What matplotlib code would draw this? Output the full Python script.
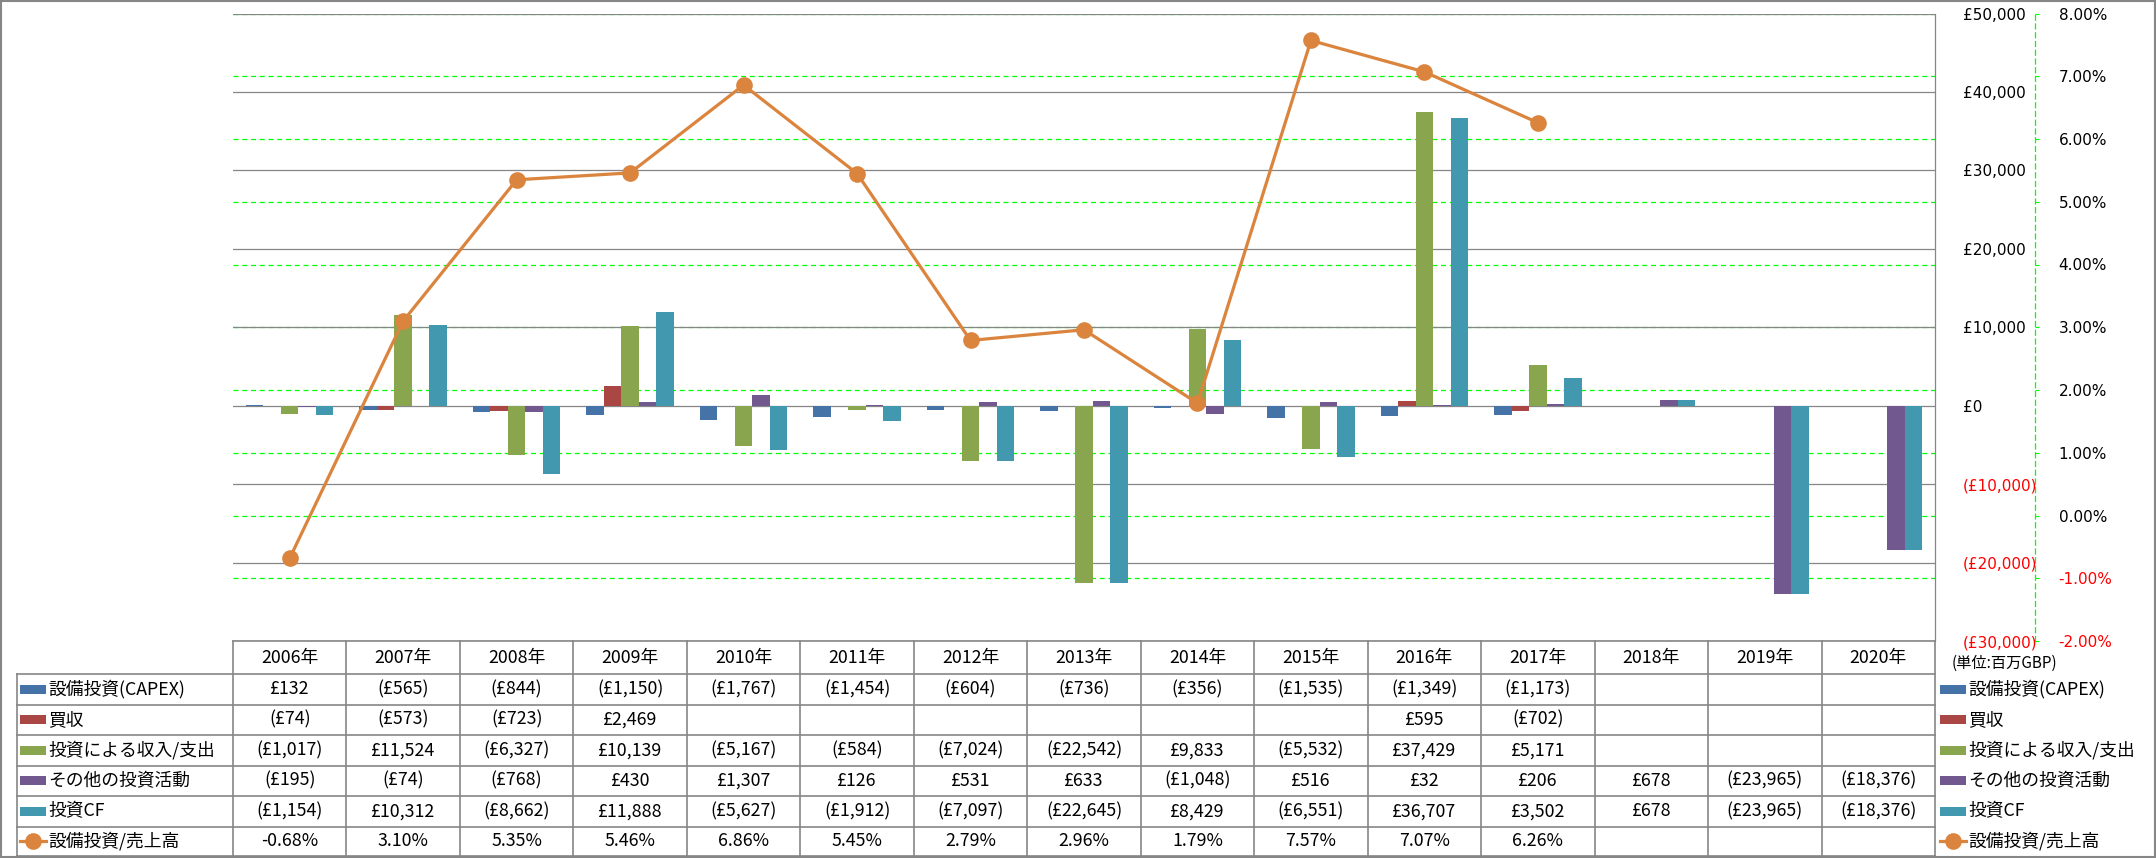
import numpy as np
import matplotlib
matplotlib.use('Agg')
import matplotlib.pyplot as plt
import matplotlib.transforms as mtransforms
from matplotlib.patches import Rectangle
from matplotlib.lines import Line2D
from matplotlib.ticker import FuncFormatter, FixedLocator

plt.rcParams['font.family'] = ['Noto Sans CJK JP', 'DejaVu Sans']

nan = np.nan

# data
years = ['2006年', '2007年', '2008年', '2009年', '2010年', '2011年', '2012年', '2013年',
         '2014年', '2015年', '2016年', '2017年', '2018年', '2019年', '2020年']
capex = [132, -565, -844, -1150, -1767, -1454, -604, -736, -356, -1535, -1349, -1173, nan, nan, nan]
acquisition = [-74, -573, -723, 2469, nan, nan, nan, nan, nan, nan, 595, -702, nan, nan, nan]
invest_income = [-1017, 11524, -6327, 10139, -5167, -584, -7024, -22542, 9833, -5532, 37429, 5171, nan, nan, nan]
other_invest = [-195, -74, -768, 430, 1307, 126, 531, 633, -1048, 516, 32, 206, 678, -23965, -18376]
invest_cf = [-1154, 10312, -8662, 11888, -5627, -1912, -7097, -22645, 8429, -6551, 36707, 3502, 678, -23965, -18376]
capex_ratio = [-0.68, 3.10, 5.35, 5.46, 6.86, 5.45, 2.79, 2.96, 1.79, 7.57, 7.07, 6.26, nan, nan, nan]

bar_names = ['設備投資(CAPEX)', '買収', '投資による収入/支出', 'その他の投資活動', '投資CF']
line_name = '設備投資/売上高'
bar_series = [capex, acquisition, invest_income, other_invest, invest_cf]
colors = ['#4572A7', '#AA4643', '#89A54E', '#71588F', '#4198AF']
line_color = '#DB843D'
grid_gray = '#868686'
green = '#00FF00'

W, H = 2156, 858
fig = plt.figure(figsize=(W / 100, H / 100), dpi=100)
fig.patch.set_facecolor('white')

x0, x1, ytop, ybot = 233, 1935, 13.5, 641
rect = [x0 / W, 1 - ybot / H, (x1 - x0) / W, (ybot - ytop) / H]
ax = fig.add_axes(rect)
axg = ax.twinx()
axl = ax.twinx()
axg.set_zorder(0)
ax.set_zorder(1)
axl.set_zorder(2)
ax.patch.set_visible(False)

x = np.arange(len(years))
bw = 17.5 / ((x1 - x0) / len(years))
for i, (vals, c) in enumerate(zip(bar_series, colors)):
    ax.bar(x + (i - 2) * bw, np.array(vals, dtype=float), width=bw, color=c, linewidth=0)

ax.set_xlim(-0.5, len(years) - 0.5)
ax.set_ylim(-30000, 50000)
ax.set_xticks([])
ax.yaxis.tick_right()
ax.yaxis.set_major_locator(FixedLocator(np.arange(-30000, 50001, 10000)))
ax.yaxis.set_major_formatter(FuncFormatter(
    lambda t, p: '£{:,}'.format(int(t)) if t >= 0 else '(£{:,})'.format(int(-t))))
ax.tick_params(axis='y', length=0, pad=20, labelsize=11, labelfontfamily='DejaVu Sans')
ax.grid(axis='y', color=grid_gray, linewidth=0.9)
ax.set_axisbelow(True)
for s in ['left', 'top', 'bottom']:
    ax.spines[s].set_visible(False)
ax.spines['right'].set_color(grid_gray)
ax.spines['right'].set_linewidth(0.9)

# secondary axis (green dashed)
axg.set_ylim(-2, 8)
axg.yaxis.set_major_locator(FixedLocator(np.arange(-2, 8.01, 1)))
axg.yaxis.set_major_formatter(FuncFormatter(lambda t, p: '{:.2f}%'.format(t)))
axg.grid(axis='y', color=green, linestyle=(0, (4, 3)), linewidth=0.9)
for s in ['left', 'top', 'bottom']:
    axg.spines[s].set_visible(False)
axg.spines['right'].set_position(('axes', 1 + 100 / (x1 - x0)))
axg.spines['right'].set_color(green)
axg.spines['right'].set_linestyle((0, (4, 3)))
axg.spines['right'].set_linewidth(0.9)
axg.tick_params(axis='y', direction='out', length=3, color=green, pad=14,
                labelsize=11, labelfontfamily='DejaVu Sans')

# line
axl.set_ylim(-2, 8)
axl.plot(x, capex_ratio, color=line_color, linewidth=2.3, marker='o', markersize=12,
         markeredgewidth=0)
axl.axis('off')

# data table
tr = mtransforms.blended_transform_factory(ax.transData, fig.transFigure)
fy = lambda py: 1 - py / H
rows_y = [641, 674, 704.5, 735, 765.5, 796, 826.5, 856]
lab_left = 17
tcol = dict(color=grid_gray, linewidth=1.2)

fig.add_artist(Line2D([x0 / W, x1 / W], [fy(rows_y[0])] * 2, transform=fig.transFigure, **tcol))
for yy in rows_y[1:]:
    fig.add_artist(Line2D([lab_left / W, x1 / W], [fy(yy)] * 2, transform=fig.transFigure, **tcol))
for k in range(len(years) + 1):
    fig.add_artist(Line2D([k - 0.5, k - 0.5], [fy(rows_y[0]), fy(rows_y[-1])], transform=tr, **tcol))
fig.add_artist(Line2D([lab_left / W] * 2, [fy(rows_y[1]), fy(rows_y[-1])], transform=fig.transFigure, **tcol))

fs = 12.8
for k, yr in enumerate(years):
    fig.text(k, fy((rows_y[0] + rows_y[1]) / 2), yr, transform=tr, ha='center', va='center', fontsize=fs)


def fmt_money(v):
    if np.isnan(v):
        return ''
    return '£{:,}'.format(int(v)) if v >= 0 else '(£{:,})'.format(int(-v))


def fmt_pct(v):
    return '' if np.isnan(v) else '{:.2f}%'.format(v)


all_rows = [(n, s, fmt_money) for n, s in zip(bar_names, bar_series)] + [(line_name, capex_ratio, fmt_pct)]
for r, (name, vals, f) in enumerate(all_rows):
    yc = fy((rows_y[r + 1] + rows_y[r + 2]) / 2)
    for k, v in enumerate(vals):
        fig.text(k, yc, f(v), transform=tr, ha='center', va='center', fontsize=fs)
    # legend keys: inside the table and on the right side
    for kx, tx in [(20, 48), (1940, 1968)]:
        if r < len(bar_names):
            fig.add_artist(Rectangle((kx / W, yc - 4.5 / H), 26 / W, 9 / H, transform=fig.transFigure,
                                     facecolor=colors[r], edgecolor='none'))
        else:
            fig.add_artist(Line2D([kx / W, (kx + 26) / W], [yc, yc], transform=fig.transFigure,
                                  color=line_color, linewidth=2.3))
            fig.add_artist(Line2D([(kx + 13) / W], [yc], transform=fig.transFigure,
                                  color=line_color, marker='o', markersize=12, markeredgewidth=0))
        fig.text(tx / W, yc, name, ha='left', va='center', fontsize=fs)

fig.text(1952 / W, fy(663), '(単位:百万GBP)', ha='left', va='center', fontsize=11)

# outer border
fig.add_artist(Rectangle((0.0005, 0.001), 0.999, 0.998, transform=fig.transFigure, fill=False,
                         edgecolor=grid_gray, linewidth=1.5))

# negative axis labels in red
fig.canvas.draw()
for a in (ax, axg):
    for lab in a.get_yticklabels():
        if lab.get_text().startswith('(') or lab.get_text().startswith('-'):
            lab.set_color('red')

fig.savefig('out.png', dpi=100)
